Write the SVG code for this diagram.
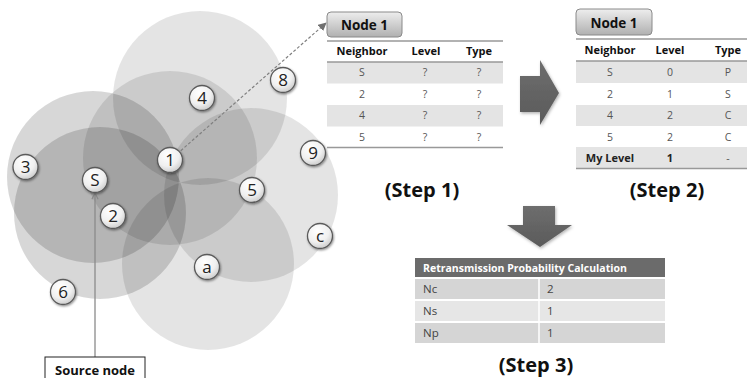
<svg xmlns="http://www.w3.org/2000/svg" width="747" height="378" viewBox="0 0 747 378">
<style>
text{font-family:"Open Sans","Liberation Sans",sans-serif}
.cov{fill:#000;fill-opacity:0.105}
.cov2{fill:#000;fill-opacity:0.155}
.nd{fill:url(#ng);stroke:#5a5a5a;stroke-width:1.3;filter:url(#sh)}
.nt{font-size:17px;fill:#222;text-anchor:middle}
.th{font-size:11px;font-weight:bold;fill:#111;text-anchor:middle}
.td{font-size:10.5px;fill:#555;text-anchor:middle}
.tdb{font-size:11px;font-weight:bold;fill:#222;text-anchor:middle}
.rule{stroke:#999;stroke-width:1.5}
.shade{fill:#e4e4e4}
.tab{fill:url(#tg);stroke:#8a8a8a;stroke-width:1}
.tabt{font-size:13.5px;font-weight:bold;fill:#111;text-anchor:middle}
.step{font-size:20px;font-weight:bold;fill:#111;text-anchor:middle}
.big{fill:url(#ag)}
.r3{font-size:11.5px;fill:#444}
</style>
<defs>
<radialGradient id="ng" cx="0.4" cy="0.3" r="0.75">
<stop offset="0" stop-color="#ffffff"/>
<stop offset="0.6" stop-color="#f0f0f0"/>
<stop offset="1" stop-color="#c8c8c8"/>
</radialGradient>
<linearGradient id="tg" x1="0" y1="0" x2="0" y2="1">
<stop offset="0" stop-color="#eeeeee"/>
<stop offset="1" stop-color="#b0b0b0"/>
</linearGradient>
<linearGradient id="ag" x1="0" y1="0" x2="0" y2="1">
<stop offset="0" stop-color="#6e6e6e"/>
<stop offset="1" stop-color="#5a5a5a"/>
</linearGradient>
<filter id="sh" x="-50%" y="-50%" width="200%" height="200%">
<feDropShadow dx="0.8" dy="1.2" stdDeviation="0.9" flood-color="#000" flood-opacity="0.45"/>
</filter>
<filter id="ash" x="-20%" y="-20%" width="140%" height="140%">
<feDropShadow dx="1" dy="1.5" stdDeviation="1.5" flood-color="#000" flood-opacity="0.3"/>
</filter>
<marker id="dh" viewBox="0 0 10 10" refX="9" refY="5" markerWidth="7" markerHeight="7" orient="auto">
<path d="M0,0 L10,5 L0,10 z" fill="#707070"/>
</marker>
<marker id="ch" viewBox="0 0 10 10" refX="9" refY="5" markerWidth="6" markerHeight="6" orient="auto">
<path d="M1,1 L9,5 L1,9" fill="none" stroke="#888" stroke-width="1.5"/>
</marker>
</defs>
<rect width="747" height="378" fill="#fff"/>
<g id="coverage">
<circle class="cov" cx="200" cy="98" r="87"/>
<circle class="cov2" cx="93" cy="177" r="86"/>
<circle class="cov" cx="170" cy="158" r="87"/>
<circle class="cov2" cx="100" cy="213" r="86"/>
<circle class="cov" cx="251" cy="195" r="87"/>
<circle class="cov" cx="208" cy="264" r="86"/>
</g>
<g id="connectors">
<line x1="177" y1="154" x2="326" y2="23" stroke="#808080" stroke-width="1.2" stroke-dasharray="3,2" marker-end="url(#dh)"/>
<line x1="95" y1="357" x2="95" y2="193" stroke="#8a8a8a" stroke-width="1.3" marker-end="url(#ch)"/>
</g>
<g id="node-8"><circle class="nd" cx="283" cy="80" r="12.5"/><text class="nt" x="283" y="86">8</text></g>
<g id="node-4"><circle class="nd" cx="202" cy="98" r="12.5"/><text class="nt" x="202" y="104">4</text></g>
<g id="node-1"><circle class="nd" cx="170" cy="160" r="12.5"/><text class="nt" x="170" y="166">1</text></g>
<g id="node-3"><circle class="nd" cx="25.5" cy="167" r="12.5"/><text class="nt" x="25.5" y="173">3</text></g>
<g id="node-S"><circle class="nd" cx="95" cy="180" r="12.5"/><text class="nt" x="95" y="186">S</text></g>
<g id="node-9"><circle class="nd" cx="313" cy="153" r="12.5"/><text class="nt" x="313" y="159">9</text></g>
<g id="node-5"><circle class="nd" cx="252" cy="190" r="12.5"/><text class="nt" x="252" y="196">5</text></g>
<g id="node-2"><circle class="nd" cx="113" cy="216" r="12.5"/><text class="nt" x="113" y="222">2</text></g>
<g id="node-c"><circle class="nd" cx="320" cy="236" r="12.5"/><text class="nt" x="320" y="242">c</text></g>
<g id="node-a"><circle class="nd" cx="207" cy="267" r="12.5"/><text class="nt" x="207" y="273">a</text></g>
<g id="node-6"><circle class="nd" cx="63" cy="292" r="12.5"/><text class="nt" x="63" y="298">6</text></g>
<g id="source-node">
<rect x="45" y="357" width="100" height="30" fill="#fff" stroke="#222" stroke-width="1"/>
<text x="95" y="375" text-anchor="middle" font-size="13px" font-weight="bold" fill="#111">Source node</text>
</g>
<g id="step1">
<rect class="tab" x="327" y="12" width="75" height="25" rx="4"/>
<text class="tabt" x="364.5" y="30">Node 1</text>
<rect class="shade" x="327" y="62" width="176" height="21.5"/>
<rect class="shade" x="327" y="105" width="176" height="21.5"/>
<line class="rule" x1="327" y1="41" x2="503" y2="41"/>
<line class="rule" x1="327" y1="62" x2="503" y2="62"/>
<line class="rule" x1="327" y1="147.5" x2="503" y2="147.5"/>
<text class="th" x="362" y="55">Neighbor</text>
<text class="th" x="426" y="55">Level</text>
<text class="th" x="479" y="55">Type</text>
<text class="td" x="362" y="76">S</text><text class="td" x="425" y="76">?</text><text class="td" x="479" y="76">?</text>
<text class="td" x="362" y="97.5">2</text><text class="td" x="425" y="97.5">?</text><text class="td" x="479" y="97.5">?</text>
<text class="td" x="362" y="119">4</text><text class="td" x="425" y="119">?</text><text class="td" x="479" y="119">?</text>
<text class="td" x="362" y="140.5">5</text><text class="td" x="425" y="140.5">?</text><text class="td" x="479" y="140.5">?</text>
<text class="step" x="422" y="197">(Step 1)</text>
</g>
<g id="arrow-right">
<polygon class="big" filter="url(#ash)" points="520,76 540,76 540,60 559,93 540,125 540,112 520,112"/>
</g>
<g id="step2">
<rect class="tab" x="576" y="9" width="76" height="26" rx="4"/>
<text class="tabt" x="614" y="27.5">Node 1</text>
<rect class="shade" x="576" y="61" width="171" height="22"/>
<rect class="shade" x="576" y="105" width="171" height="21"/>
<rect class="shade" x="576" y="147" width="171" height="21"/>
<line class="rule" x1="576" y1="39" x2="747" y2="39"/>
<line class="rule" x1="576" y1="61" x2="747" y2="61"/>
<line class="rule" x1="576" y1="168.5" x2="747" y2="168.5"/>
<text class="th" x="610" y="54">Neighbor</text>
<text class="th" x="670" y="54">Level</text>
<text class="th" x="728" y="54">Type</text>
<text class="td" x="610" y="76">S</text><text class="td" x="670" y="76">0</text><text class="td" x="728" y="76">P</text>
<text class="td" x="610" y="98">2</text><text class="td" x="670" y="98">1</text><text class="td" x="728" y="98">S</text>
<text class="td" x="610" y="119">4</text><text class="td" x="670" y="119">2</text><text class="td" x="728" y="119">C</text>
<text class="td" x="610" y="141">5</text><text class="td" x="670" y="141">2</text><text class="td" x="728" y="141">C</text>
<text class="tdb" x="610" y="162">My Level</text><text class="tdb" x="670" y="162">1</text><text class="td" x="728" y="162">-</text>
<text class="step" x="667" y="197">(Step 2)</text>
</g>
<g id="arrow-down">
<polygon class="big" filter="url(#ash)" points="523,206 555,206 555,225 572,225 540,247 507,225 523,225"/>
</g>
<g id="step3">
<rect x="415" y="258" width="250" height="19" fill="#6b6b6b"/>
<rect x="415" y="279" width="250" height="20" fill="#d5d5d5"/>
<rect x="415" y="301" width="250" height="20" fill="#e6e6e6"/>
<rect x="415" y="323" width="250" height="20" fill="#d5d5d5"/>
<line x1="539" y1="277" x2="539" y2="343" stroke="#fff" stroke-width="1.5"/>
<text x="423" y="272" font-size="10.5px" font-weight="bold" fill="#fff">Retransmission  Probability Calculation</text>
<text class="r3" x="423" y="293">Nc</text><text class="r3" x="547" y="293">2</text>
<text class="r3" x="423" y="315">Ns</text><text class="r3" x="547" y="315">1</text>
<text class="r3" x="423" y="337">Np</text><text class="r3" x="547" y="337">1</text>
<text class="step" x="536" y="372">(Step 3)</text>
</g>
</svg>
